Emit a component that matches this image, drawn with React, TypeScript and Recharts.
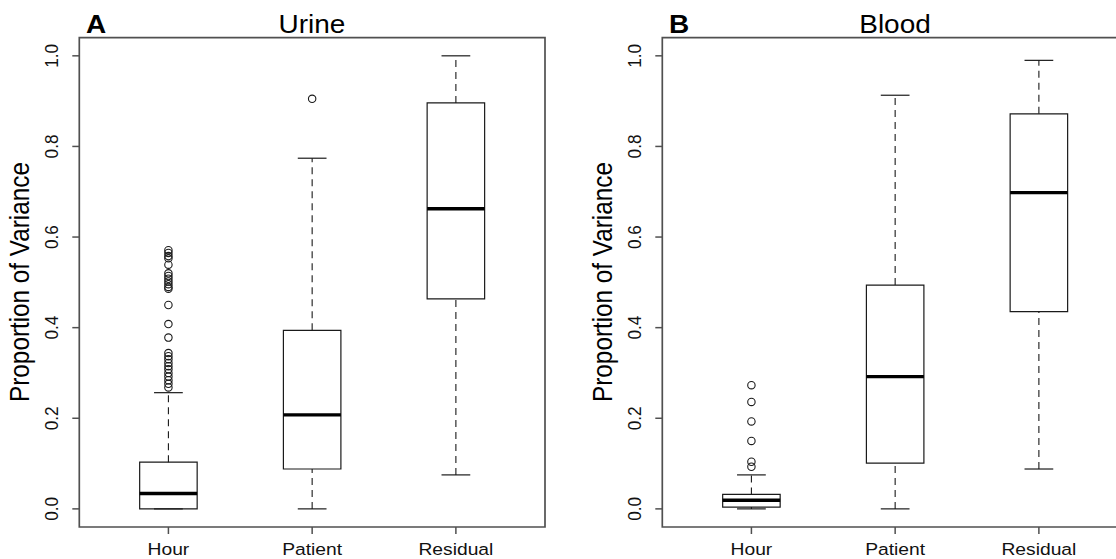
import React from "react";
import {
  ComposedChart,
  XAxis,
  YAxis,
  Scatter,
  ReferenceArea,
  ReferenceLine,
} from "recharts";

// ---------- data ----------
const categories = ["Hour", "Patient", "Residual"];
const yTicks = [0, 0.2, 0.4, 0.6, 0.8, 1.0];

const urineLow = [0, 0, 0.075];
const urineQ1 = [0, 0.088, 0.4635];
const urineMedian = [0.034, 0.2075, 0.6625];
const urineQ3 = [0.103, 0.394, 0.896];
const urineHigh = [0.2565, 0.774, 1.0];
const urineHourOutliers = [
  0.571, 0.565, 0.558, 0.553, 0.539, 0.52, 0.514, 0.508, 0.502, 0.496, 0.49,
  0.486, 0.45, 0.408, 0.378, 0.344, 0.337, 0.33, 0.322, 0.315, 0.308, 0.3,
  0.292, 0.284, 0.276, 0.268,
];
const urinePatientOutliers = [0.905];
const urineResidualOutliers: number[] = [];

const bloodLow = [0, 0, 0.088];
const bloodQ1 = [0.004, 0.101, 0.4355];
const bloodMedian = [0.019, 0.292, 0.698];
const bloodQ3 = [0.032, 0.494, 0.872];
const bloodHigh = [0.075, 0.913, 0.99];
const bloodHourOutliers = [0.273, 0.236, 0.193, 0.15, 0.104, 0.093];
const bloodPatientOutliers: number[] = [];
const bloodResidualOutliers: number[] = [];

// ---------- style ----------
const FONT = '"Liberation Sans", Arial, Helvetica, sans-serif';
const SX = 1.12; // horizontal stretch of the reference's glyphs
const FRAME = "#505050";
const LINE = "#1a1a1a";
const BOX_HALF = 0.2;
const CAP_HALF = 0.1;
const X_DOMAIN: [number, number] = [0.38, 3.62];
const Y_DOMAIN: [number, number] = [-0.04, 1.04];
const CHART_W = 560;
const CHART_H = 559;
const OFFSET_B = 583;

type Stats = {
  low: number[];
  q1: number[];
  median: number[];
  q3: number[];
  high: number[];
  outliers: number[][];
};

const urineStats: Stats = {
  low: urineLow,
  q1: urineQ1,
  median: urineMedian,
  q3: urineQ3,
  high: urineHigh,
  outliers: [urineHourOutliers, urinePatientOutliers, urineResidualOutliers],
};
const bloodStats: Stats = {
  low: bloodLow,
  q1: bloodQ1,
  median: bloodMedian,
  q3: bloodQ3,
  high: bloodHigh,
  outliers: [bloodHourOutliers, bloodPatientOutliers, bloodResidualOutliers],
};

const YTick = (props: any) => {
  const { x, y, payload } = props;
  return (
    <text
      transform={`translate(${x - 12.5},${y}) scale(${SX},1) rotate(-90)`}
      textAnchor="middle"
      fontFamily={FONT}
      fontSize={17.2}
      fill="#111"
    >
      {Number(payload.value).toFixed(1)}
    </text>
  );
};

const XTick = (props: any) => {
  const { x, y, payload } = props;
  const label = categories[Math.round(payload.value) - 1] ?? "";
  return (
    <text
      transform={`translate(${x},${y + 19}) scale(${SX},1)`}
      textAnchor="middle"
      fontFamily={FONT}
      fontSize={17.2}
      fill="#111"
    >
      {label}
    </text>
  );
};

const Circle = (props: any) => {
  const { cx, cy } = props;
  if (cx == null || cy == null) return null;
  return <circle cx={cx} cy={cy} r={3.7} fill="none" stroke={LINE} strokeWidth={1.1} />;
};

function Panel({ stats, left }: { stats: Stats; left: number }) {
  const points = stats.outliers.flatMap((arr, i) => arr.map((v) => ({ x: i + 1, y: v })));
  return (
    <div style={{ position: "absolute", left, top: 0, width: CHART_W, height: CHART_H }}>
      <ComposedChart
        width={CHART_W}
        height={CHART_H}
        margin={{ top: 37.7, right: 15, bottom: 0, left: 0 }}
      >
        <XAxis
          type="number"
          dataKey="x"
          domain={X_DOMAIN}
          allowDataOverflow
          ticks={[1, 2, 3]}
          interval={0}
          height={32}
          tickSize={7}
          axisLine={false}
          tickLine={{ stroke: FRAME, strokeWidth: 1.5 }}
          tick={<XTick />}
        />
        <YAxis
          type="number"
          dataKey="y"
          domain={Y_DOMAIN}
          allowDataOverflow
          ticks={yTicks}
          interval={0}
          width={79.3}
          tickSize={7}
          axisLine={false}
          tickLine={{ stroke: FRAME, strokeWidth: 1.5 }}
          tick={<YTick />}
        />
        <ReferenceArea
          x1={X_DOMAIN[0]}
          x2={X_DOMAIN[1]}
          y1={Y_DOMAIN[0]}
          y2={Y_DOMAIN[1]}
          fill="none"
          stroke={FRAME}
          strokeWidth={1.7}
          ifOverflow="visible"
        />
        {categories.map((c, i) => {
          const xc = i + 1;
          return (
            <React.Fragment key={c}>
              <ReferenceLine
                segment={[
                  { x: xc, y: stats.q3[i] },
                  { x: xc, y: stats.high[i] },
                ]}
                stroke={LINE}
                strokeWidth={1.1}
                strokeDasharray="7 5"
                ifOverflow="visible"
              />
              <ReferenceLine
                segment={[
                  { x: xc, y: stats.low[i] },
                  { x: xc, y: stats.q1[i] },
                ]}
                stroke={LINE}
                strokeWidth={1.1}
                strokeDasharray="7 5"
                ifOverflow="visible"
              />
              <ReferenceLine
                segment={[
                  { x: xc - CAP_HALF, y: stats.high[i] },
                  { x: xc + CAP_HALF, y: stats.high[i] },
                ]}
                stroke={LINE}
                strokeWidth={1.2}
                ifOverflow="visible"
              />
              <ReferenceLine
                segment={[
                  { x: xc - CAP_HALF, y: stats.low[i] },
                  { x: xc + CAP_HALF, y: stats.low[i] },
                ]}
                stroke={LINE}
                strokeWidth={1.2}
                ifOverflow="visible"
              />
              <ReferenceArea
                x1={xc - BOX_HALF}
                x2={xc + BOX_HALF}
                y1={stats.q1[i]}
                y2={stats.q3[i]}
                fill="#fff"
                fillOpacity={1}
                stroke={LINE}
                strokeWidth={1.2}
                ifOverflow="visible"
              />
              <ReferenceLine
                segment={[
                  { x: xc - BOX_HALF, y: stats.median[i] },
                  { x: xc + BOX_HALF, y: stats.median[i] },
                ]}
                stroke="#000"
                strokeWidth={3.4}
                ifOverflow="visible"
              />
            </React.Fragment>
          );
        })}
        <Scatter data={points} dataKey="y" shape={<Circle />} isAnimationActive={false} />
      </ComposedChart>
    </div>
  );
}

function Titles() {
  const common = { fontFamily: FONT, fill: "#000" } as const;
  return (
    <svg
      width={1116}
      height={559}
      style={{ position: "absolute", left: 0, top: 0, pointerEvents: "none" }}
    >
      <text transform={`translate(86,33) scale(${SX},1)`} fontSize={25} fontWeight="bold" {...common}>
        A
      </text>
      <text transform={`translate(312,33) scale(${SX},1)`} fontSize={25} textAnchor="middle" {...common}>
        Urine
      </text>
      <text transform={`translate(669,33) scale(${SX},1)`} fontSize={25} fontWeight="bold" {...common}>
        B
      </text>
      <text transform={`translate(895,33) scale(${SX},1)`} fontSize={25} textAnchor="middle" {...common}>
        Blood
      </text>
      <text
        transform={`translate(29,282) scale(${SX},1) rotate(-90)`}
        fontSize={24.3}
        textAnchor="middle"
        {...common}
      >
        Proportion of Variance
      </text>
      <text
        transform={`translate(${29 + OFFSET_B},282) scale(${SX},1) rotate(-90)`}
        fontSize={24.3}
        textAnchor="middle"
        {...common}
      >
        Proportion of Variance
      </text>
    </svg>
  );
}

export default function App() {
  return (
    <div
      style={{
        position: "fixed",
        left: 0,
        top: 0,
        width: 1116,
        height: 559,
        overflow: "hidden",
        background: "#fff",
      }}
    >
      <Panel stats={urineStats} left={0} />
      <Panel stats={bloodStats} left={OFFSET_B} />
      <Titles />
    </div>
  );
}
